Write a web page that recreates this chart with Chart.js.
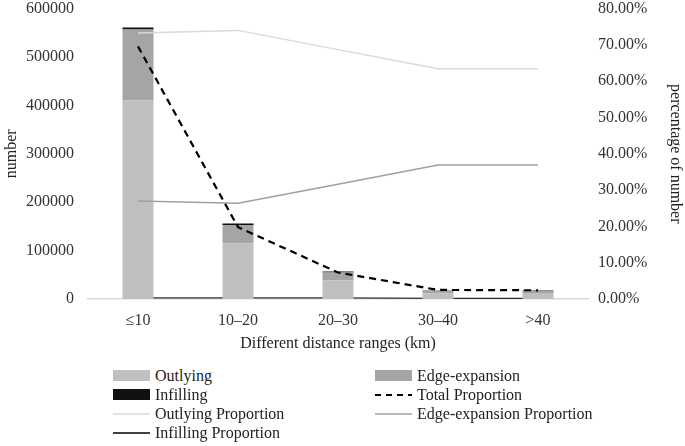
<!DOCTYPE html>
<html><head><meta charset="utf-8">
<script src="https://cdn.jsdelivr.net/npm/chart.js@4/dist/chart.umd.min.js"></script>
<style>
html,body{margin:0;padding:0;background:#fff;width:685px;height:446px;overflow:hidden;font-family:"Liberation Serif",serif;}
#wrap{position:absolute;left:0;top:-15px;width:685px;height:375px;}
#legend{position:absolute;left:113px;top:366px;width:560px;display:grid;grid-template-columns:262px 300px;row-gap:0px;font-size:16px;color:#222;line-height:19px;}
.li{display:flex;align-items:center;height:19px;}
.sw{width:37px;height:19px;margin-right:5px;flex:none;}
</style></head>
<body>
<div id="wrap"><canvas id="c" width="685" height="375"></canvas></div>
<div id="legend"></div>
<script>
const categories = ["\u226410", "10\u201320", "20\u201330", "30\u201340", ">40"];
const outlying = [410000, 115000, 38000, 11500, 11000];
const edgeExpansion = [147000, 38000, 17000, 6500, 6300];
const infilling = [4000, 3000, 2000, 800, 800];
const totalProportion = [69.6, 19.8, 7.3, 2.5, 2.4];
const outlyingProportion = [73.3, 74.0, 68.7, 63.4, 63.4];
const edgeProportion = [27.0, 26.4, 31.6, 36.9, 36.9];
const infillingProportion = [0.3, 0.3, 0.3, 0.2, 0.2];
const leftTicks = [0, 100000, 200000, 300000, 400000, 500000, 600000];
const rightTicks = [0, 10, 20, 30, 40, 50, 60, 70, 80];

const FONT = {family: "'Liberation Serif', serif", size: 16};
const TXT = '#333';

const datasets = [
  {type:'bar', label:'Outlying', data:outlying, backgroundColor:'#bfbfbf', yAxisID:'y', stack:'s', order:2, barPercentage:0.62, categoryPercentage:0.5},
  {type:'bar', label:'Edge-expansion', data:edgeExpansion, backgroundColor:'#a5a5a5', yAxisID:'y', stack:'s', order:2, barPercentage:0.62, categoryPercentage:0.5},
  {type:'bar', label:'Infilling', data:infilling, backgroundColor:'#111111', yAxisID:'y', stack:'s', order:2, barPercentage:0.62, categoryPercentage:0.5},
  {type:'line', label:'Total Proportion', data:totalProportion, borderColor:'#000', borderWidth:2.2, borderDash:[7,5], pointRadius:0, yAxisID:'y1', order:0, tension:0},
  {type:'line', label:'Outlying Proportion', data:outlyingProportion, borderColor:'#d9d9d9', borderWidth:1.5, pointRadius:0, yAxisID:'y1', order:1},
  {type:'line', label:'Edge-expansion Proportion', data:edgeProportion, borderColor:'#a0a0a0', borderWidth:1.5, pointRadius:0, yAxisID:'y1', order:1},
  {type:'line', label:'Infilling Proportion', data:infillingProportion, borderColor:'#000', borderWidth:1, pointRadius:0, yAxisID:'y1', order:3}
];

const chart = new Chart(document.getElementById('c'), {
  data: {labels: categories, datasets},
  options: {
    responsive:false, animation:false,
    layout:{padding:{top:0,left:0,right:0,bottom:0}},
    plugins:{legend:{display:false}, tooltip:{enabled:false}},
    scales:{
      x:{stacked:true, offset:true, grid:{display:false, drawTicks:false}, border:{display:true,color:'#d9d9d9',width:1.5},
         ticks:{font:FONT,color:TXT,padding:12,maxRotation:0},
         title:{display:true,text:'Different distance ranges (km)',font:FONT,color:'#222',padding:{top:0,bottom:7}},
         afterFit:s=>{s.height=61;}},
      y:{stacked:true, position:'left', min:0, max:600000, grid:{display:false,drawTicks:false,tickLength:0}, border:{display:false},
         afterBuildTicks:s=>{s.ticks=leftTicks.map(v=>({value:v}));},
         ticks:{font:FONT,color:TXT,padding:14,callback:v=>String(v)},
         title:{display:true,text:'number',font:FONT,color:'#222',padding:{top:2,bottom:0}},
         afterFit:s=>{s.width=88;}},
      y1:{position:'right', min:0, max:80, grid:{display:false,drawTicks:false,tickLength:0}, border:{display:false},
         afterBuildTicks:s=>{s.ticks=rightTicks.map(v=>({value:v}));},
         ticks:{font:FONT,color:TXT,padding:10,callback:v=>v.toFixed(2)+'%'},
         title:{display:true,text:'percentage of number',font:FONT,color:'#222',padding:{top:0,bottom:0}},
         afterFit:s=>{s.width=97;}}
    }
  }
});

// HTML legend built from the datasets
const leg = document.getElementById('legend');
datasets.forEach(ds=>{
  const item = document.createElement('div'); item.className='li';
  const sw = document.createElement('canvas'); sw.className='sw'; sw.width=37; sw.height=19;
  const g = sw.getContext('2d');
  if(ds.type==='bar'){ g.fillStyle=ds.backgroundColor; g.fillRect(0,4,37,11); }
  else { g.strokeStyle=ds.borderColor; g.lineWidth=Math.max(ds.borderWidth,1.5); if(ds.borderDash) g.setLineDash([6,5]); g.beginPath(); g.moveTo(0,10); g.lineTo(37,10); g.stroke(); }
  const t = document.createElement('span'); t.textContent=ds.label;
  item.appendChild(sw); item.appendChild(t); leg.appendChild(item);
});
</script>
</body></html>
